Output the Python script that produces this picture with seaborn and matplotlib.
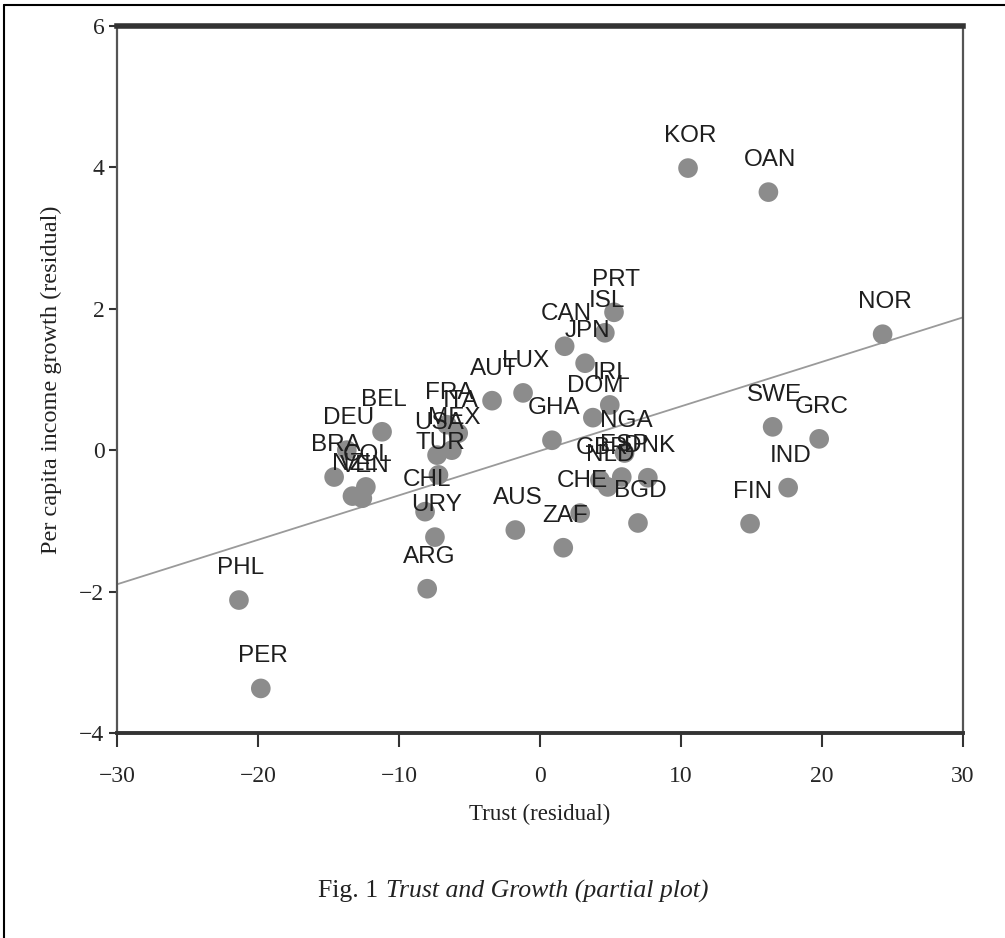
"""
Trust and growth partial plot (residuals), country-labelled scatter with OLS line.
"""

import matplotlib.pyplot as plt
import pandas as pd
import seaborn as sns
from matplotlib.lines import Line2D

countries = [
    "KOR", "OAN", "NOR", "SWE", "GRC", "IND", "FIN", "PHL", "PER", "ARG",
    "URY", "CHL", "FRA", "ITA", "USA", "MEX", "TUR", "DEU", "BEL", "BRA",
    "COL", "NZL", "VEN", "AUT", "LUX", "CAN", "PRT", "ISL", "JPN", "IRL",
    "DOM", "GHA", "NGA", "GBR", "ESP", "NLD", "DNK", "CHE", "BGD", "AUS",
    "ZAF",
]
trust_resid = [
    10.5, 16.2, 24.3, 16.5, 19.8, 17.6, 14.9, -21.35, -19.8, -8.0,
    -7.45, -8.15, -6.6, -5.8, -7.3, -6.25, -7.2, -13.7, -11.2, -14.6,
    -12.35, -13.3, -12.6, -3.4, -1.2, 1.75, 5.25, 4.6, 3.2, 4.95,
    3.75, 0.85, 6.0, 4.25, 5.8, 4.8, 7.65, 2.85, 6.95, -1.75,
    1.65,
]
growth_resid = [
    3.99, 3.65, 1.64, 0.33, 0.16, -0.53, -1.04, -2.12, -3.37, -1.96,
    -1.23, -0.87, 0.36, 0.24, -0.07, 0.0, -0.35, 0.0, 0.26, -0.38,
    -0.52, -0.65, -0.68, 0.70, 0.81, 1.47, 1.95, 1.66, 1.23, 0.64,
    0.46, 0.14, -0.04, -0.42, -0.38, -0.52, -0.39, -0.89, -1.03, -1.13,
    -1.38,
]
x_ticks = [-30, -20, -10, 0, 10, 20, 30]
y_ticks = [-4, -2, 0, 2, 4, 6]


def main() -> None:
    df = pd.DataFrame({"country": countries, "trust": trust_resid, "growth": growth_resid})

    sns.set_style("white")
    plt.rcParams["font.family"] = ["Liberation Serif", "DejaVu Serif"]
    plt.rcParams["axes.unicode_minus"] = True

    fig = plt.figure(figsize=(10.05, 9.38), dpi=100)
    ax = fig.add_axes([0.1164, 0.2186, 0.8418, 0.7537])
    ax.set_xlim(-30, 30)
    ax.set_ylim(-4, 6)

    sns.regplot(
        data=df,
        x="trust",
        y="growth",
        ci=None,
        truncate=False,
        scatter_kws={"s": 200, "color": "#8c8c8c", "edgecolor": "none", "alpha": 1.0, "zorder": 3},
        line_kws={"color": "#9a9a9a", "linewidth": 1.3, "zorder": 2},
        ax=ax,
    )

    for name, xv, yv in zip(df["country"], df["trust"], df["growth"]):
        ax.annotate(
            name,
            (xv, yv),
            xytext=(1.5, 23),
            textcoords="offset points",
            ha="center",
            va="center",
            fontsize=17.5,
            family=["Liberation Sans", "DejaVu Sans"],
            color="#1e1e1e",
            zorder=4,
        )

    ax.set_xlim(-30, 30)
    ax.set_ylim(-4, 6)
    ax.set_xticks(x_ticks)
    ax.set_yticks(y_ticks)
    ax.tick_params(axis="x", bottom=True, direction="out", length=10, width=1.5,
                   color="#333333", labelsize=17, pad=14)
    ax.tick_params(axis="y", left=True, direction="out", length=6, width=1.5,
                   color="#333333", labelsize=17, pad=3)

    for side in ["left", "right"]:
        ax.spines[side].set_linewidth(1.6)
        ax.spines[side].set_color("#555555")
    ax.spines["top"].set_linewidth(4.0)
    ax.spines["top"].set_color("#333333")
    ax.spines["bottom"].set_linewidth(2.8)
    ax.spines["bottom"].set_color("#333333")

    ax.set_xlabel("Trust (residual)", fontsize=16.5, color="#222222")
    ax.set_ylabel("Per capita income growth (residual)", fontsize=17.5, color="#222222")
    ax.xaxis.set_label_coords(0.5, -0.1)
    ax.yaxis.set_label_coords(-0.065, 0.5)

    fig.text(0.376, 0.05, "Fig. 1", ha="right", va="center", fontsize=18.5, color="#222222")
    fig.text(0.384, 0.05, "Trust and Growth (partial plot)", ha="left", va="center",
             fontsize=18.5, style="italic", color="#222222")

    # page frame: left and top edges only
    fig.add_artist(Line2D([0.004, 0.004], [0.0, 0.995], transform=fig.transFigure,
                          color="black", linewidth=1.5))
    fig.add_artist(Line2D([0.004, 1.0], [0.995, 0.995], transform=fig.transFigure,
                          color="black", linewidth=1.5))

    fig.savefig("out.png", dpi=100)
    plt.close(fig)


if __name__ == "__main__":
    main()
